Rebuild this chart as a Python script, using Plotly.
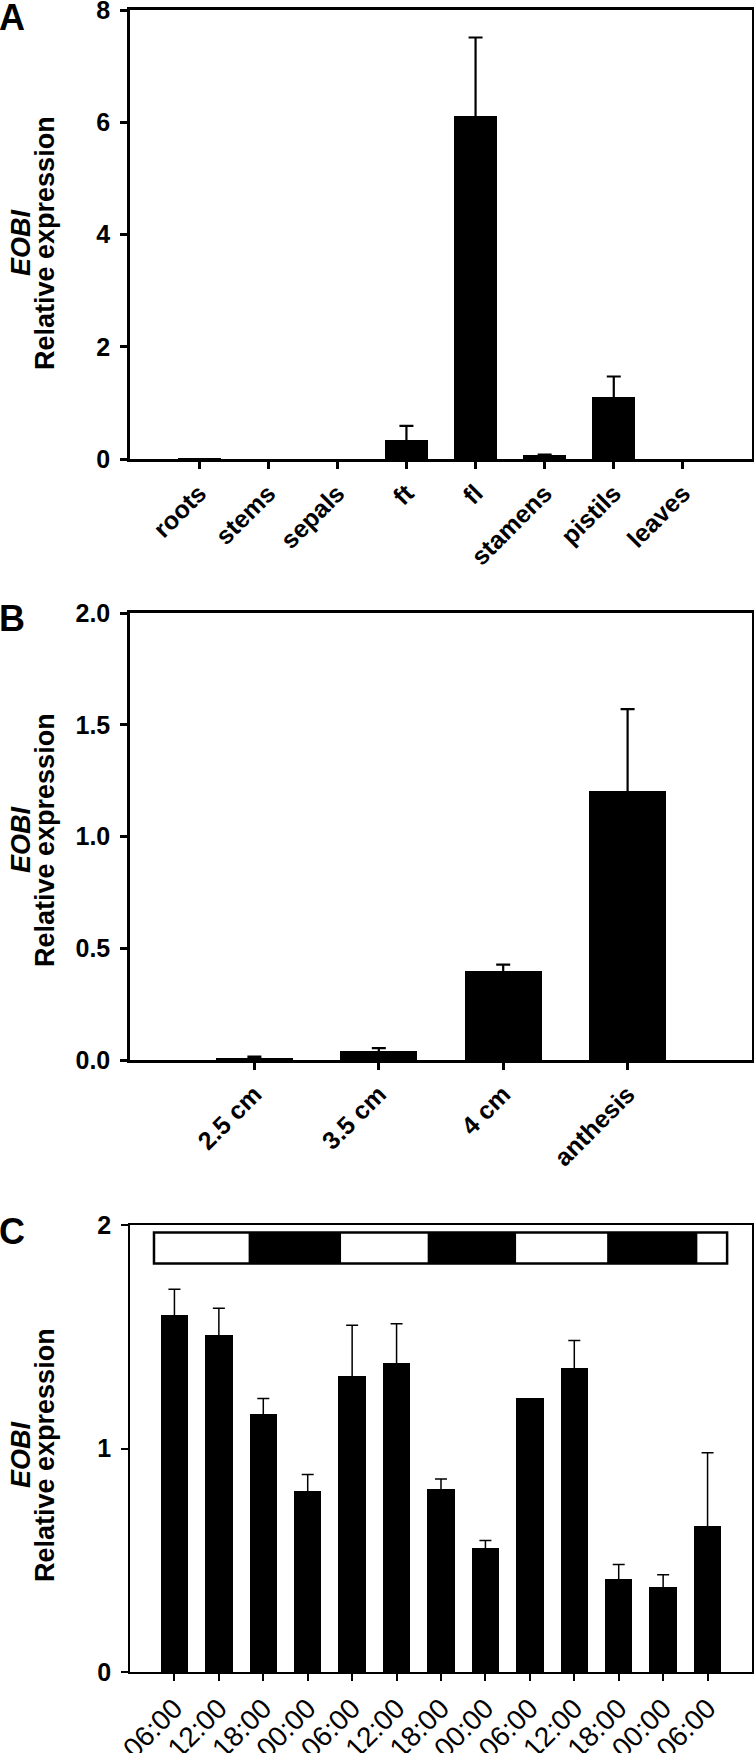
import plotly.graph_objects as go

# ---------------- data ----------------
# Panel A: tissues
tissues = ["roots", "stems", "sepals", "ft", "fl", "stamens", "pistils", "leaves"]
tissue_expr = [0.01, 0.0, 0.0, 0.34, 6.12, 0.07, 1.10, 0.0]
tissue_err = [None, None, None, 0.25, 1.39, 0.01, 0.37, None]

# Panel B: developmental stages
stages = ["2.5 cm", "3.5 cm", "4 cm", "anthesis"]
stage_expr = [0.010, 0.042, 0.40, 1.204]
stage_err = [0.005, 0.011, 0.027, 0.366]

# Panel C: time course
times = ["06:00", "12:00", "18:00", "00:00", "06:00", "12:00", "18:00",
         "00:00", "06:00", "12:00", "18:00", "00:00", "06:00"]
time_expr = [1.597, 1.507, 1.153, 0.808, 1.326, 1.381, 0.821,
             0.554, 1.228, 1.358, 0.414, 0.382, 0.655]
time_err = [0.116, 0.120, 0.071, 0.076, 0.226, 0.177, 0.043,
            0.034, None, 0.125, 0.067, 0.053, 0.326]

# light / dark band in panel C (x positions in axis units, y extent)
photo_edges = [0.54, 2.67, 4.75, 6.70, 8.69, 10.74, 12.77, 13.44]
photo_dark = [False, True, False, True, False, True, False]
photo_band = [1.828, 1.966]

# ---------------- figure ----------------
W, H = 754, 1753
FONT = "Arial, Liberation Sans, Helvetica, sans-serif"

def py(p):  # pixel from top -> paper fraction
    return 1 - p / H

xdom = [130 / W, 752 / W]
panels = [
    dict(y=[py(459), py(10)], lw=2.5, tickvals=[0, 2, 4, 6, 8], rng=[0, 8], fmt="d"),
    dict(y=[py(1060), py(613)], lw=2.5, tickvals=[0, 0.5, 1.0, 1.5, 2.0], rng=[0, 2], fmt=".1f"),
    dict(y=[py(1672), py(1225)], lw=1.5, tickvals=[0, 1, 2], rng=[0, 2], fmt="d"),
]

fig = go.Figure()

datasets = [
    (tissues, tissue_expr, tissue_err, 2.2, 7),
    (stages, stage_expr, stage_err, 2.2, 7),
    (times, time_expr, time_err, 1.5, 6),
]

for i, (cats, vals, errs, ethick, ewidth) in enumerate(datasets):
    n = len(cats)
    pos = list(range(1, n + 1))
    xa = "x" if i == 0 else f"x{i+1}"
    ya = "y" if i == 0 else f"y{i+1}"
    fig.add_trace(go.Bar(
        x=pos, y=vals, width=0.62, marker=dict(color="black", line=dict(width=0)),
        xaxis=xa, yaxis=ya, showlegend=False, hoverinfo="skip"))
    # error bars only where a value exists
    idx = [k for k in range(n) if errs[k] is not None]
    fig.add_trace(go.Scatter(
        x=[pos[k] for k in idx], y=[vals[k] for k in idx], mode="markers",
        marker=dict(size=1, opacity=0),
        error_y=dict(type="data", symmetric=True, array=[errs[k] for k in idx],
                     color="black", thickness=ethick, width=ewidth, visible=True),
        xaxis=xa, yaxis=ya, showlegend=False, hoverinfo="skip"))
    p = panels[i]
    bold_x = i < 2
    xkey = "xaxis" if i == 0 else f"xaxis{i+1}"
    ykey = "yaxis" if i == 0 else f"yaxis{i+1}"
    fig.layout[xkey] = dict(
        domain=xdom, anchor=ya, range=[0, n + 1],
        tickvals=pos,
        ticktext=[f"<b>{c}</b>" if bold_x else c for c in cats],
        tickangle=-45, ticks="outside", ticklen=7, tickwidth=p["lw"],
        tickcolor="black", showline=True, linewidth=p["lw"], linecolor="black",
        mirror=True, showgrid=False, zeroline=False, automargin=False,
        ticklabeloverflow="allow",
        tickfont=dict(family=FONT, size=25 if bold_x else 28, color="black"),
    )
    fig.layout[ykey] = dict(
        domain=p["y"], anchor=xa, range=p["rng"],
        tickvals=p["tickvals"], tickformat=p["fmt"],
        ticks="outside", ticklen=7, tickwidth=p["lw"], tickcolor="black",
        showline=True, linewidth=p["lw"], linecolor="black", mirror=True,
        showgrid=False, zeroline=False, automargin=False,
        ticklabeloverflow="allow",
        tickfont=dict(family=FONT, size=25, color="black", weight="bold"),
        ticklabelstandoff=5,
    )

# light/dark band in panel C
shapes = [dict(type="rect", xref="x3", yref="y3",
               x0=photo_edges[0], x1=photo_edges[-1],
               y0=photo_band[0], y1=photo_band[1],
               fillcolor="white", line=dict(color="black", width=2.5), layer="above")]
for k, dark in enumerate(photo_dark):
    if dark:
        shapes.append(dict(type="rect", xref="x3", yref="y3",
                           x0=photo_edges[k], x1=photo_edges[k + 1],
                           y0=photo_band[0], y1=photo_band[1],
                           fillcolor="black", line=dict(width=0), layer="above"))
fig.update_layout(shapes=shapes)

# axis titles and panel letters
annos = []
title_centers = [243, 840, 1455]
letter_centers = [18, 618, 1231]
for letter, yc, lc in zip("ABC", title_centers, letter_centers):
    annos.append(dict(xref="paper", yref="paper", x=21 / W, y=py(yc),
                      text="<b><i>EOBI</i></b>", textangle=-90, showarrow=False,
                      font=dict(family=FONT, size=27, color="black"),
                      xanchor="center", yanchor="middle"))
    annos.append(dict(xref="paper", yref="paper", x=45 / W, y=py(yc),
                      text="<b>Relative expression</b>", textangle=-90, showarrow=False,
                      font=dict(family=FONT, size=27, color="black"),
                      xanchor="center", yanchor="middle"))
    annos.append(dict(xref="paper", yref="paper", x=-3 / W, y=py(lc),
                      text=f"<b>{letter}</b>", showarrow=False,
                      font=dict(family=FONT, size=36, color="black"),
                      xanchor="left", yanchor="middle"))
fig.update_layout(annotations=annos)

fig.update_layout(
    width=W, height=H, margin=dict(l=0, r=0, t=0, b=0),
    paper_bgcolor="white", plot_bgcolor="white", showlegend=False,
    bargap=0,
)

fig.write_html("out.html", config={"displayModeBar": False},
               post_script="document.body.style.margin='0px';")
